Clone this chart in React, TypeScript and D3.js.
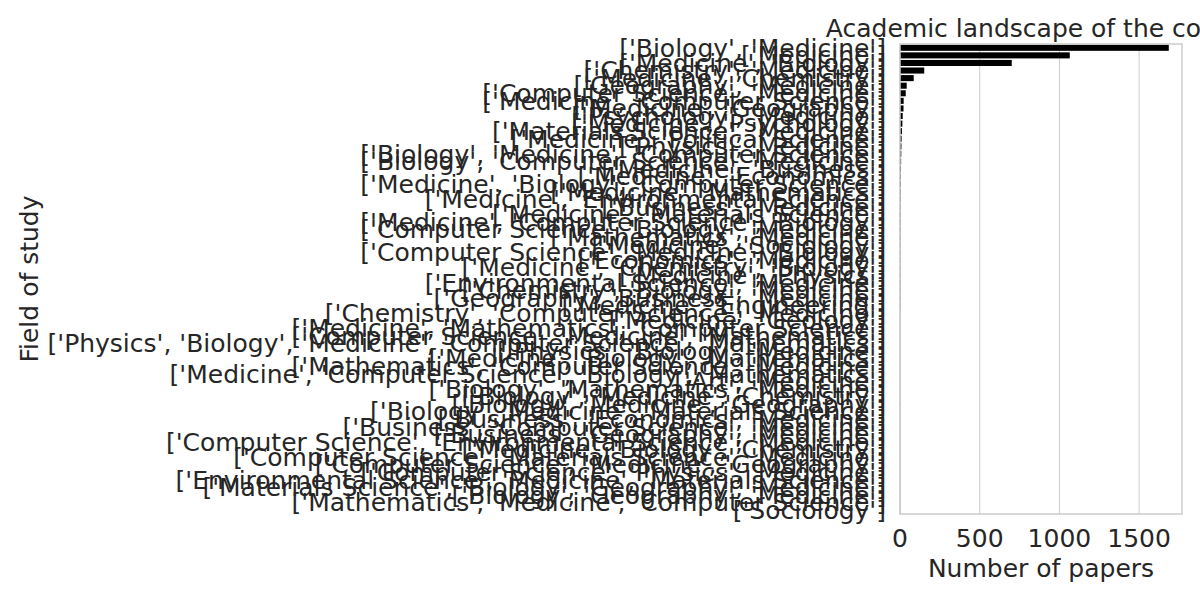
import React, { useEffect, useRef } from 'react';
import * as d3 from 'd3';

const fields: string[] = [
  "['Biology', 'Medicine']",
  "['Medicine']",
  "['Medicine', 'Biology']",
  "['Chemistry', 'Medicine']",
  "['Medicine', 'Chemistry']",
  "['Geography', 'Medicine']",
  "['Computer Science', 'Medicine']",
  "['Medicine', 'Computer Science']",
  "['Medicine', 'Geography']",
  "['Psychology', 'Medicine']",
  "['Medicine', 'Psychology']",
  "['Materials Science', 'Medicine']",
  "['Medicine', 'Political Science']",
  "['Physics', 'Medicine']",
  "['Biology', 'Medicine', 'Computer Science']",
  "['Biology', 'Computer Science', 'Medicine']",
  "['Medicine', 'Business']",
  "['Medicine', 'Economics']",
  "['Medicine', 'Biology', 'Computer Science']",
  "['Medicine', 'Mathematics']",
  "['Medicine', 'Environmental Science']",
  "['Business', 'Medicine']",
  "['Medicine', 'Materials Science']",
  "['Medicine', 'Computer Science', 'Biology']",
  "['Computer Science', 'Biology', 'Medicine']",
  "['Mathematics', 'Medicine']",
  "['Medicine', 'Sociology']",
  "['Computer Science', 'Medicine', 'Biology']",
  "['Economics', 'Medicine']",
  "['Medicine', 'Chemistry', 'Biology']",
  "['Medicine', 'Physics']",
  "['Environmental Science', 'Medicine']",
  "['Chemistry', 'Biology', 'Medicine']",
  "['Geography', 'Business', 'Medicine']",
  "['Medicine', 'Engineering']",
  "['Chemistry', 'Computer Science', 'Medicine']",
  "['Medicine', 'Geology']",
  "['Medicine', 'Mathematics', 'Computer Science']",
  "['Computer Science', 'Medicine', 'Mathematics']",
  "['Physics', 'Biology', 'Medicine', 'Computer Science', 'Mathematics']",
  "['Physics', 'Biology', 'Medicine']",
  "['Medicine', 'Biology', 'Mathematics']",
  "['Mathematics', 'Computer Science', 'Medicine']",
  "['Medicine', 'Computer Science', 'Biology', 'Mathematics']",
  "['Art', 'Medicine']",
  "['Biology', 'Mathematics', 'Medicine']",
  "['Biology', 'Medicine', 'Chemistry']",
  "['Biology', 'Medicine', 'Geography']",
  "['Biology', 'Medicine', 'Materials Science']",
  "['Business', 'Economics', 'Medicine']",
  "['Business', 'Computer Science', 'Medicine']",
  "['Business', 'Geography', 'Medicine']",
  "['Computer Science', 'Environmental Science', 'Medicine']",
  "['Medicine', 'Biology', 'Chemistry']",
  "['Computer Science', 'Materials Science', 'Medicine']",
  "['Computer Science', 'Medicine', 'Geography']",
  "['Computer Science', 'Physics', 'Medicine']",
  "['Environmental Science', 'Medicine', 'Materials Science']",
  "['Materials Science', 'Biology', 'Geography', 'Medicine']",
  "['Biology', 'Geography', 'Medicine']",
  "['Mathematics', 'Medicine', 'Computer Science']",
  "['Sociology']",
];

const papers: number[] = [
  1686, 1065, 701, 152, 86, 42, 36, 23, 22, 17, 15, 12, 10, 9, 8, 7, 6, 5, 5, 4,
  4, 3, 3, 3, 3, 3, 2, 2, 2, 2, 2, 2, 2, 2, 2, 1, 1, 1, 1, 1,
  1, 1, 1, 1, 1, 1, 1, 1, 1, 1, 1, 1, 1, 1, 1, 1, 1, 1, 1, 1,
  1, 1,
];

const xTicks: number[] = [0, 500, 1000, 1500];

export default function App() {
  const svgRef = useRef<SVGSVGElement>(null);

  useEffect(() => {
    const svg = d3.select(svgRef.current);
    svg.selectAll('*').remove();

    const width = 1200;
    const height = 600;
    const margin = { top: 44, right: 18, bottom: 86, left: 900 };
    const font = 'DejaVu Sans';
    const fs = 25;
    const ink = '#262626';

    const data = fields.map((f, i) => ({ field: f, value: papers[i] }));

    const x = d3.scaleLinear()
      .domain([0, 1769])
      .range([margin.left, width - margin.right]);

    const y = d3.scaleBand()
      .domain(fields)
      .range([margin.top, height - margin.bottom])
      .paddingInner(0.2)
      .paddingOuter(0.1);

    // grid lines
    svg.append('g')
      .selectAll('line')
      .data(xTicks)
      .enter()
      .append('line')
      .attr('x1', d => x(d))
      .attr('x2', d => x(d))
      .attr('y1', margin.top)
      .attr('y2', height - margin.bottom)
      .attr('stroke', '#cccccc')
      .attr('stroke-width', 1);

    svg.append('g')
      .selectAll('rect')
      .data(data)
      .enter()
      .append('rect')
      .attr('x', x(0))
      .attr('y', d => y(d.field) as number)
      .attr('width', d => x(d.value) - x(0))
      .attr('height', y.bandwidth())
      .attr('fill', '#000000');

    // frame
    svg.append('rect')
      .attr('x', margin.left)
      .attr('y', margin.top)
      .attr('width', width - margin.right - margin.left)
      .attr('height', height - margin.bottom - margin.top)
      .attr('fill', 'none')
      .attr('stroke', '#cccccc')
      .attr('stroke-width', 1.5);

    // y tick labels
    svg.append('g')
      .selectAll('text')
      .data(fields)
      .enter()
      .append('text')
      .attr('x', margin.left - 14)
      .attr('y', d => (y(d) as number) + y.bandwidth() / 2)
      .attr('dy', '0.35em')
      .attr('text-anchor', 'end')
      .attr('font-family', font)
      .attr('font-size', fs)
      .attr('fill', ink)
      .text(d => d);

    // x tick labels
    svg.append('g')
      .selectAll('text')
      .data(xTicks)
      .enter()
      .append('text')
      .attr('x', d => x(d))
      .attr('y', height - margin.bottom + 33)
      .attr('text-anchor', 'middle')
      .attr('font-family', font)
      .attr('font-size', fs)
      .attr('fill', ink)
      .text(d => d);

    svg.append('text')
      .attr('x', (margin.left + width - margin.right) / 2)
      .attr('y', 577)
      .attr('text-anchor', 'middle')
      .attr('font-family', font)
      .attr('font-size', fs)
      .attr('fill', ink)
      .text('Number of papers');

    svg.append('text')
      .attr('transform', `translate(38,${(margin.top + height - margin.bottom) / 2}) rotate(-90)`)
      .attr('text-anchor', 'middle')
      .attr('font-family', font)
      .attr('font-size', fs)
      .attr('fill', ink)
      .text('Field of study');

    svg.append('text')
      .attr('x', (margin.left + width - margin.right) / 2)
      .attr('y', 37)
      .attr('text-anchor', 'middle')
      .attr('font-family', font)
      .attr('font-size', fs)
      .attr('fill', ink)
      .text('Academic landscape of the corpus');
  }, []);

  return (
    <div style={{ position: 'absolute', left: 0, top: 0 }}>
      <svg ref={svgRef} width={1200} height={600} style={{ display: 'block', background: '#ffffff' }} />
    </div>
  );
}
